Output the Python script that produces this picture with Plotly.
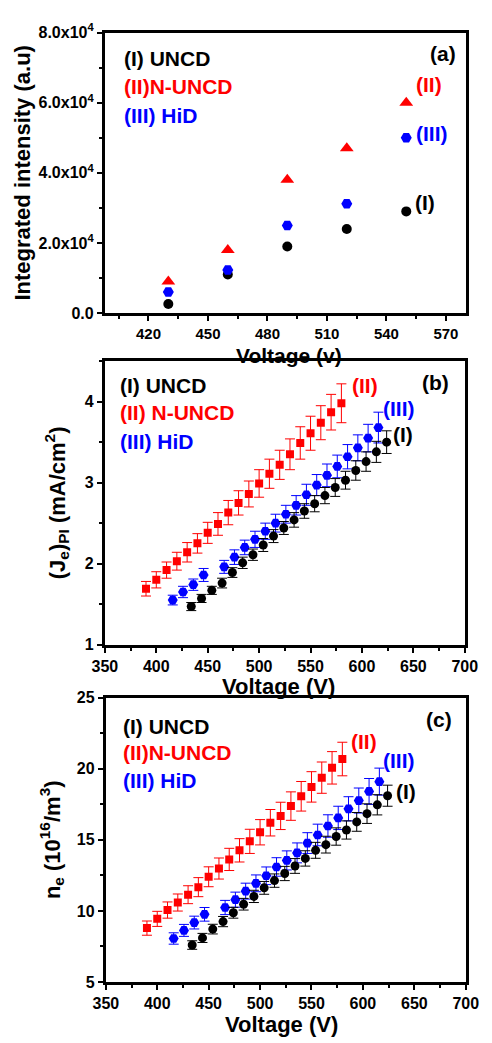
import plotly.graph_objects as go

# ---------------- Panel (a) data ----------------
va = [430, 460, 490, 520, 550]
a_uncd = [2600, 11000, 19000, 24000, 29000]
a_nuncd = [9000, 18000, 38000, 47000, 60000]
a_hid = [6000, 12300, 25000, 31200, 50000]
a_ytickvals = [0, 20000, 40000, 60000, 80000]
a_yticktext = ["0.0", "2.0x10<sup>4</sup>", "4.0x10<sup>4</sup>", "6.0x10<sup>4</sup>", "8.0x10<sup>4</sup>"]

# ---------------- Panel (b) data ----------------
v_nuncd = [390, 400, 410, 420, 430, 440, 450, 460, 470, 480, 490, 500, 510, 520, 530, 540, 550, 560, 570, 580]
v_hid = [416, 426, 436, 446, 466, 476, 486, 496, 506, 516, 526, 536, 546, 556, 566, 576, 586, 596, 606, 616]
v_uncd = [434, 444, 454, 464, 474, 484, 494, 504, 514, 524, 534, 544, 554, 564, 574, 584, 594, 604, 614, 624]

b_nuncd = [1.69, 1.80, 1.92, 2.03, 2.14, 2.25, 2.38, 2.49, 2.63, 2.75, 2.86, 2.99, 3.11, 3.22, 3.35, 3.49, 3.61, 3.74, 3.87, 3.98]
b_nuncd_err = [0.09, 0.10, 0.10, 0.11, 0.12, 0.12, 0.13, 0.14, 0.15, 0.15, 0.16, 0.17, 0.18, 0.18, 0.19, 0.20, 0.21, 0.21, 0.22, 0.24]
b_hid = [1.55, 1.65, 1.74, 1.86, 1.96, 2.08, 2.20, 2.30, 2.40, 2.50, 2.61, 2.72, 2.85, 2.97, 3.09, 3.20, 3.32, 3.43, 3.55, 3.68]
b_hid_err = [0.06, 0.07, 0.07, 0.08, 0.08, 0.09, 0.09, 0.10, 0.10, 0.11, 0.11, 0.12, 0.13, 0.13, 0.14, 0.14, 0.15, 0.16, 0.17, 0.19]
b_uncd = [1.47, 1.57, 1.67, 1.76, 1.89, 2.01, 2.11, 2.23, 2.34, 2.44, 2.54, 2.65, 2.74, 2.84, 2.94, 3.03, 3.15, 3.26, 3.38, 3.50]
b_uncd_err = [0.05, 0.05, 0.05, 0.06, 0.06, 0.07, 0.07, 0.08, 0.08, 0.08, 0.09, 0.09, 0.10, 0.10, 0.11, 0.11, 0.12, 0.12, 0.13, 0.14]

# ---------------- Panel (c) data ----------------
c_nuncd = [8.79, 9.44, 10.06, 10.59, 11.14, 11.67, 12.40, 12.98, 13.62, 14.26, 14.89, 15.53, 16.20, 16.68, 17.37, 18.06, 18.72, 19.37, 20.06, 20.68]
c_nuncd_err = [0.50, 0.53, 0.57, 0.60, 0.63, 0.67, 0.70, 0.74, 0.78, 0.82, 0.85, 0.89, 0.93, 0.96, 1.00, 1.04, 1.07, 1.10, 1.14, 1.18]
c_hid = [8.06, 8.63, 9.18, 9.76, 10.24, 10.79, 11.39, 11.94, 12.47, 13.09, 13.55, 14.08, 14.77, 15.34, 15.97, 16.54, 17.18, 17.76, 18.40, 19.09]
c_hid_err = [0.40, 0.42, 0.45, 0.48, 0.50, 0.53, 0.56, 0.59, 0.62, 0.65, 0.67, 0.70, 0.73, 0.76, 0.79, 0.82, 0.85, 0.88, 0.91, 0.95]
c_uncd = [7.60, 8.10, 8.72, 9.25, 9.87, 10.47, 11.02, 11.62, 12.13, 12.63, 13.16, 13.69, 14.26, 14.66, 15.23, 15.69, 16.26, 16.84, 17.46, 18.10]
c_uncd_err = [0.30, 0.32, 0.34, 0.36, 0.38, 0.41, 0.43, 0.45, 0.47, 0.50, 0.52, 0.54, 0.56, 0.59, 0.61, 0.64, 0.66, 0.69, 0.71, 0.74]

RED = "#ff0000"
BLUE = "#0000ff"
BLACK = "#000000"
FONT = "Liberation Sans, Arial, sans-serif"

fig = go.Figure()

# Panel (a)
fig.add_trace(go.Scatter(x=va, y=a_uncd, mode="markers", xaxis="x", yaxis="y",
                         marker=dict(symbol="circle", size=10, color=BLACK)))
fig.add_trace(go.Scatter(x=va, y=a_nuncd, mode="markers", xaxis="x", yaxis="y",
                         marker=dict(symbol="triangle-up", size=12, color=RED)))
fig.add_trace(go.Scatter(x=va, y=a_hid, mode="markers", xaxis="x", yaxis="y",
                         marker=dict(symbol="hexagon2", size=11, color=BLUE)))


def add_err(x, y, e, sym, size, color, xa, ya):
    fig.add_trace(go.Scatter(
        x=x, y=y, mode="markers", xaxis=xa, yaxis=ya,
        marker=dict(symbol=sym, size=size, color=color),
        error_y=dict(type="data", array=e, visible=True, color=color, thickness=1, width=5)))


# Panel (b)
add_err(v_nuncd, b_nuncd, b_nuncd_err, "square", 8, RED, "x2", "y2")
add_err(v_hid, b_hid, b_hid_err, "hexagon2", 10, BLUE, "x2", "y2")
add_err(v_uncd, b_uncd, b_uncd_err, "circle", 9, BLACK, "x2", "y2")

# Panel (c)
add_err(v_nuncd, c_nuncd, c_nuncd_err, "square", 8, RED, "x3", "y3")
add_err(v_hid, c_hid, c_hid_err, "hexagon2", 10, BLUE, "x3", "y3")
add_err(v_uncd, c_uncd, c_uncd_err, "circle", 9, BLACK, "x3", "y3")

H = 1043.0
W = 492.0


def axis_common():
    return dict(showline=True, linewidth=3, linecolor="black", mirror=True,
                ticks="outside", ticklen=5, tickwidth=2, tickcolor="black",
                showgrid=False, zeroline=False,
                tickfont=dict(family=FONT, size=16, color="black", weight="bold"),
                title_font=dict(family=FONT, size=22, color="black", weight="bold"),
                minor=dict(ticks="outside", ticklen=3, tickwidth=2, tickcolor="black"))


xa = axis_common()
xa.update(domain=[97 / W, 478 / W], anchor="y", range=[398, 580],
          tickvals=[420, 450, 480, 510, 540, 570])
xa["tickfont"]["size"] = 15
xa["minor"]["tickvals"] = [405, 435, 465, 495, 525, 555]
ya = axis_common()
ya.update(domain=[1 - 308 / H, 1 - 22 / H], anchor="x", range=[0, 80000],
          tickvals=a_ytickvals, ticktext=a_yticktext,
          title=dict(text="Integrated intensity (a.u)", standoff=2))
ya["minor"]["tickvals"] = [10000, 30000, 50000, 70000]

xb = axis_common()
xb.update(domain=[97 / W, 477 / W], anchor="y2", range=[350, 700], dtick=50)
xb["minor"]["dtick"] = 25
yb = axis_common()
yb.update(domain=[1 - 646 / H, 1 - 357 / H], anchor="x2", range=[1, 4.5], dtick=1,
          title=dict(text="(J<sub>e</sub>)<sub>PI</sub> (mA/cm<sup>2</sup>)", standoff=14))
yb["minor"]["dtick"] = 0.5

xc = axis_common()
xc.update(domain=[98 / W, 478 / W], anchor="y3", range=[350, 700], dtick=50)
xc["minor"]["dtick"] = 25
yc = axis_common()
yc.update(domain=[1 - 990 / H, 1 - 700 / H], anchor="x3", range=[5, 25], dtick=5,
          title=dict(text="n<sub>e</sub> (10<sup>16</sup>/m<sup>3</sup>)", standoff=11))
yc["minor"]["dtick"] = 2.5

annotations = []


def ann(text, x, y, color, xr, yr, xanchor="left", size=21):
    annotations.append(dict(text=text, x=x, y=y, xref=xr, yref=yr,
                            xanchor=xanchor, yanchor="middle", showarrow=False,
                            font=dict(family=FONT, size=size, color=color, weight="bold")))


# x-axis titles (placed as paper annotations for exact position)
ann("Voltage (v)", 291 / W, 1 - 351 / H, BLACK, "paper", "paper", xanchor="center", size=21)
ann("Voltage (V)", 280 / W, 1 - 689 / H, BLACK, "paper", "paper", xanchor="center", size=22)
ann("Voltage (V)", 283 / W, 1 - 1033 / H, BLACK, "paper", "paper", xanchor="center", size=22)

# Panel (a) labels
ann("(I) UNCD", 406.6, 72700, BLACK, "x", "y")
ann("(II)N-UNCD", 406.6, 64560, RED, "x", "y")
ann("(III) HiD", 406.6, 56420, BLUE, "x", "y")
ann("(a)", 576, 74100, BLACK, "x", "y", xanchor="right")
ann("(II)", 553.8, 65100, RED, "x", "y")
ann("(III)", 553.8, 51100, BLUE, "x", "y")
ann("(I)", 553.3, 31440, BLACK, "x", "y")

# Panel (b) labels
ann("(I) UNCD", 363.2, 4.20, BLACK, "x2", "y2")
ann("(II) N-UNCD", 363.2, 3.86, RED, "x2", "y2")
ann("(III) HiD", 363.2, 3.51, BLUE, "x2", "y2")
ann("(b)", 687, 4.24, BLACK, "x2", "y2", xanchor="right")
ann("(II)", 588, 4.20, RED, "x2", "y2")
ann("(III)", 618.7, 3.92, BLUE, "x2", "y2")
ann("(I)", 627.9, 3.59, BLACK, "x2", "y2")

# Panel (c) labels
ann("(I) UNCD", 364.8, 22.98, BLACK, "x3", "y3")
ann("(II)N-UNCD", 364.8, 21.14, RED, "x3", "y3")
ann("(III) HiD", 364.8, 19.18, BLUE, "x3", "y3")
ann("(c)", 689, 23.46, BLACK, "x3", "y3", xanchor="right")
ann("(II)", 586.6, 21.94, RED, "x3", "y3")
ann("(III)", 618, 20.59, BLUE, "x3", "y3")
ann("(I)", 630.6, 18.38, BLACK, "x3", "y3")

fig.update_layout(
    width=492, height=1043,
    margin=dict(l=0, r=0, t=0, b=0),
    paper_bgcolor="white", plot_bgcolor="white",
    showlegend=False,
    xaxis=xa, yaxis=ya, xaxis2=xb, yaxis2=yb, xaxis3=xc, yaxis3=yc,
    annotations=annotations,
    font=dict(family=FONT, color="black"),
)

fig.write_html("out.html")
